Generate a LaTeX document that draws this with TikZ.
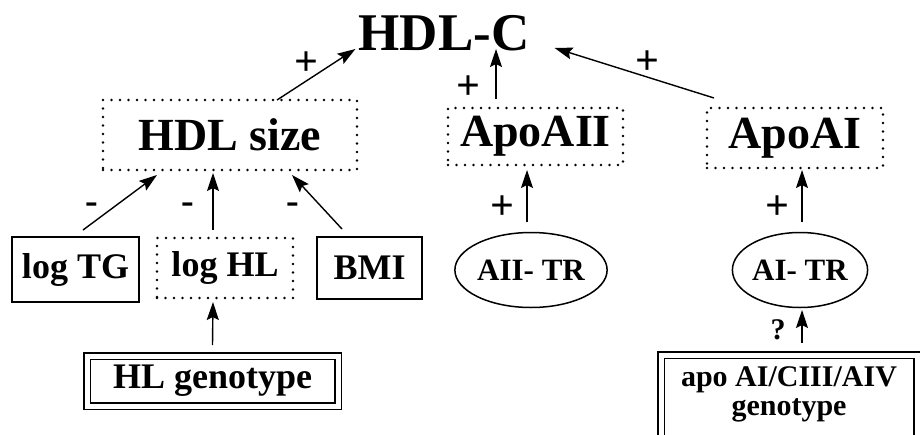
\documentclass[tikz,border=0pt]{standalone}
\usepackage{fontspec}
\setmainfont{Liberation Serif}
\usetikzlibrary{arrows.meta,positioning,shapes.geometric}

\begin{document}
\begin{tikzpicture}[
      >={Stealth[length=18pt,width=12pt,inset=3pt]},
      arr/.style={->, line width=1.4pt},
      big/.style={font=\fontsize{46}{46}\selectfont\bfseries},
      small/.style={font=\fontsize{36}{36}\selectfont\bfseries},
      dotbox/.style={draw, line width=2.9pt, line cap=round, dash pattern=on 0pt off 8.5pt, inner sep=0pt, outer sep=0pt},
      plainbox/.style={draw, line width=1.5pt, inner sep=0pt, outer sep=0pt},
      genobox/.style={draw, line width=1.5pt, double, double distance=5pt, inner sep=0pt, outer sep=0pt},
      trans/.style={draw, ellipse, line width=1.5pt, inner sep=0pt, outer sep=0pt, minimum width=137pt, minimum height=75pt,
                    font=\fontsize{31}{31}\selectfont\bfseries},
      sign/.style={inner sep=0pt, font=\fontsize{42}{42}\selectfont\bfseries},
      neg/.style={inner sep=0pt, font=\fontsize{38}{38}\selectfont\bfseries},
      on grid
    ]
    \useasboundingbox (0,0) rectangle (920pt,-434pt);

    % Outcome
    \node (hdlc) [inner sep=0pt, font=\fontsize{53}{53}\selectfont\bfseries] at (444pt,-33pt) {HDL-C};

    % Upper level
    \node (hdlsize) [dotbox, big, minimum width=254pt, minimum height=70pt, below left=102pt and 214pt of hdlc]    {HDL size};
    \node (apoaii)  [dotbox, big, minimum width=175pt, minimum height=57pt, below right=103.5pt and 91.5pt of hdlc] {ApoAII};
    \node (apoai)   [dotbox, big, minimum width=176pt, minimum height=60pt, below right=105pt and 351pt of hdlc]   {ApoAI};

    % Lower level
    \node (logtg)  [plainbox, small, minimum width=127pt, minimum height=65pt, below left=134.5pt and 154.5pt of hdlsize] {log TG};
    \node (loghl)  [dotbox, small, minimum width=136pt, minimum height=60pt, below left=133pt and 5pt of hdlsize]         {log HL};
    \node (bmi)    [plainbox, small, minimum width=105pt, minimum height=62pt, below right=133pt and 139.5pt of hdlsize]  {BMI};
    \node (aiitr)  [trans, below left=133.5pt and 4.5pt of apoaii]                  {AII- TR};
    \node (aitr)   [trans, minimum width=135pt, below right=132pt and 5pt of apoai] {AI- TR};

    % Genotypes
    \node (hlgeno)  [genobox, small, minimum width=251pt, minimum height=50pt, below left=113pt and 12.5pt of loghl] {HL genotype};
    \node (apogeno) [genobox, align=center, anchor=north, minimum width=256pt, inner ysep=12pt, text depth=50pt,
                     font=\fontsize{30}{29}\selectfont\bfseries]
                    at ([xshift=-11pt,yshift=-47.5pt]aitr.south) {apo AI/CIII/AIV\\genotype};

    % Arrows into HDL-C
    \draw[arr] ([xshift=47pt]hdlsize.north) -- node[sign, pos=0.375, yshift=17pt]{+} ([xshift=-3pt,yshift=2pt]hdlc.south west);
    \draw[arr] ([xshift=-39.5pt,yshift=9pt]apoaii.north) -- node[sign, pos=0.22, xshift=-28pt]{+} ([xshift=52pt,yshift=2pt]hdlc.south);
    \draw[arr] ([xshift=7pt,yshift=10pt]apoai.north west) -- node[sign, pos=0.416, yshift=15pt]{+} ([xshift=25pt,yshift=3pt]hdlc.south east);

    % Arrows into HDL size
    \draw[arr] ([xshift=7.5pt,yshift=7pt]logtg.north) -- node[neg, pos=0.455, xshift=-24.6pt, yshift=-3pt]{-} ([xshift=54pt,yshift=-5pt]hdlsize.south west);
    \draw[arr] ([xshift=-12pt,yshift=8pt]loghl.north) -- node[neg, pos=0.44, xshift=-25pt, yshift=-3pt]{-} ([xshift=-17pt,yshift=-3pt]hdlsize.south);
    \draw[arr] ([xshift=-27.5pt,yshift=8pt]bmi.north) -- node[neg, pos=0.44, xshift=-27pt, yshift=-3pt]{-} ([xshift=-65pt,yshift=-5pt]hdlsize.south east);

    % Genotype and transport rates
    \draw[arr] ([yshift=11pt]hlgeno.north) -- ([xshift=-12pt,yshift=-4pt]loghl.south);
    \draw[arr] ([xshift=-4pt,yshift=10.5pt]aiitr.north) -- node[sign, pos=0.27, xshift=-25pt]{+} ([xshift=-8.5pt,yshift=-5pt]apoaii.south);
    \draw[arr] ([xshift=2pt,yshift=10.5pt]aitr.north) -- node[sign, pos=0.27, xshift=-25pt]{+} ([xshift=7pt,yshift=-2pt]apoai.south);
    \draw[arr] ([xshift=13pt,yshift=12pt]apogeno.north) -- node[neg, font=\fontsize{30}{30}\selectfont\bfseries, pos=0.39, xshift=-24pt]{?} ([xshift=2pt,yshift=-2.5pt]aitr.south);
  \end{tikzpicture}
\end{document}
